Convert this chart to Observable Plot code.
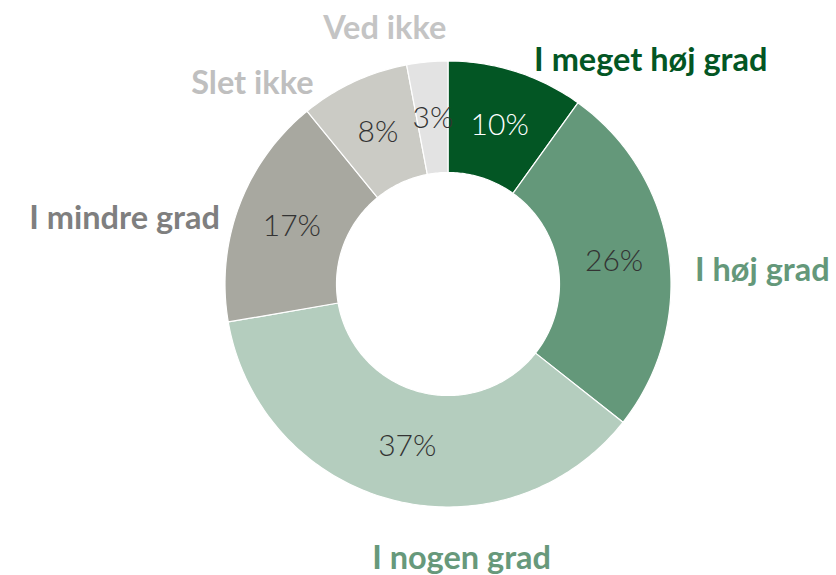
<!DOCTYPE html>
<html>
<head>
<meta charset="utf-8">
<script src="https://cdn.jsdelivr.net/npm/d3@7"></script>
<script src="https://cdn.jsdelivr.net/npm/@observablehq/plot@0.6"></script>
<style>
  html, body { margin: 0; padding: 0; background: #fff; }
  #chart { width: 836px; height: 575px; }
</style>
</head>
<body>
<div id="chart"></div>
<script>
// ---- data ----
const categories = ["I meget høj grad", "I høj grad", "I nogen grad", "I mindre grad", "Slet ikke", "Ved ikke"];
const values = [10, 26, 37, 17, 8, 3];
const pctLabels = ["10%", "26%", "37%", "17%", "8%", "3%"];

// ---- styles ----
const sliceColors = ["#035624", "#64987a", "#b4cdbe", "#a8a8a0", "#cbcbc5", "#e3e3e3"];
const labelColors = ["#035624", "#64987a", "#67997b", "#7f7f7f", "#bfbfbf", "#c4c4c4"];
const pctColors = ["#ffffff", "#333333", "#333333", "#333333", "#333333", "#333333"];
const labelDx = [134, 93, 68, -115, -102, -43];
const labelDy = [-12, 17, 58, 12, 1, -34];

const rOuter = 1, rInner = 0.5;
const pie = d3.pie().sort(null).value(d => d.value);
const arcs = pie(categories.map((c, i) => ({cat: c, value: values[i], i})));

// ring polygons: outer/inner samples along each slice's angle range
const ringPts = [];
for (const a of arcs) {
  const n = Math.max(8, Math.ceil((a.endAngle - a.startAngle) * 60));
  for (let k = 0; k <= n; k++) {
    const t = a.startAngle + (a.endAngle - a.startAngle) * k / n;
    ringPts.push({cat: a.data.cat, x1: rOuter * Math.sin(t), y1: rOuter * Math.cos(t),
                  x2: rInner * Math.sin(t), y2: rInner * Math.cos(t)});
  }
}
const mids = arcs.map(a => {
  const m = (a.startAngle + a.endAngle) / 2;
  return {cat: a.data.cat, i: a.data.i, m,
          px: 0.75 * Math.sin(m), py: 0.75 * Math.cos(m),
          ox: rOuter * Math.sin(m), oy: rOuter * Math.cos(m)};
});

const marks = [
  Plot.area(ringPts, {x1: "x1", y1: "y1", x2: "x2", y2: "y2", z: "cat", fill: "cat",
                      stroke: "#ffffff", strokeWidth: 1.2})
];
for (const d of mids) {
  marks.push(Plot.text([d], {x: "px", y: "py", text: () => pctLabels[d.i],
    fill: pctColors[d.i], fontSize: 30, fontWeight: 300, fontFamily: "Lato",
    textAnchor: "middle", lineAnchor: "middle"}));
  marks.push(Plot.text([d], {x: "ox", y: "oy", text: () => categories[d.i],
    dx: labelDx[d.i], dy: labelDy[d.i],
    fill: labelColors[d.i], fontSize: 32.5, fontWeight: 700, fontFamily: "Lato",
    textAnchor: "middle", lineAnchor: "middle"}));
}

const chart = Plot.plot({
  width: 836, height: 575,
  marginLeft: 225, marginRight: 165, marginTop: 61, marginBottom: 68,
  x: {domain: [-1, 1], axis: null},
  y: {domain: [-1, 1], axis: null},
  color: {domain: categories, range: sliceColors},
  style: {background: "#ffffff", overflow: "visible"},
  marks
});
document.getElementById("chart").appendChild(chart);
</script>
</body>
</html>
